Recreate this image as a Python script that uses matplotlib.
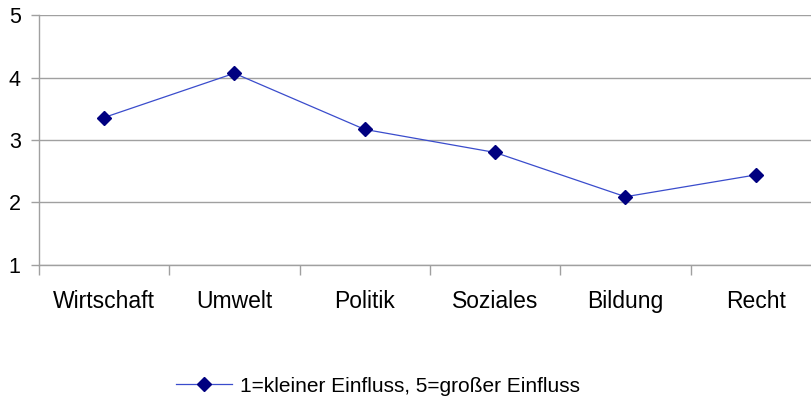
import matplotlib
matplotlib.use("Agg")
import matplotlib.pyplot as plt
from matplotlib.ticker import FixedLocator, NullFormatter

categories = ["Wirtschaft", "Umwelt", "Politik", "Soziales", "Bildung", "Recht"]
values = [3.36, 4.07, 3.17, 2.80, 2.09, 2.44]
series_label = "1=kleiner Einfluss, 5=großer Einfluss"
yticks = [1, 2, 3, 4, 5]

plt.rcParams['font.family'] = ['Liberation Sans', 'DejaVu Sans']

fig = plt.figure(figsize=(8.11, 4.05), dpi=100)
ax = fig.add_axes([38.8 / 811, 140.3 / 405, (821 - 38.8) / 811, (264.7 - 15.3) / 405])

x = list(range(len(categories)))
line, = ax.plot(x, values, color='#3a4ccc', linewidth=0.9, marker='D', markersize=7,
                markerfacecolor='#000080', markeredgecolor='#000080', label=series_label,
                clip_on=False, zorder=3)

ax.set_xlim(-0.5, len(categories) - 0.5)
ax.set_ylim(1, 5)
ax.set_yticks(yticks)
ax.set_yticklabels([str(v) for v in yticks], fontsize=15.5)
ax.yaxis.grid(True, color='#a0a0a0', linewidth=1)
ax.set_axisbelow(True)

ax.xaxis.set_major_locator(FixedLocator([i - 0.5 for i in range(len(categories) + 1)]))
ax.xaxis.set_major_formatter(NullFormatter())
ax.xaxis.set_minor_locator(FixedLocator(x))
ax.set_xticklabels(categories, minor=True, fontsize=16.5)
ax.tick_params(axis='x', which='major', length=7, color='#a0a0a0', width=1, direction='out')
ax.tick_params(axis='x', which='minor', length=0, pad=18)
ax.tick_params(axis='y', length=6, color='#a0a0a0', width=1, direction='out', pad=7)

for s in ['top', 'right']:
    ax.spines[s].set_visible(False)
for s in ['left', 'bottom']:
    ax.spines[s].set_color('#a0a0a0')
    ax.spines[s].set_linewidth(1)

fig.legend(handles=[line], loc='center', bbox_to_anchor=(378 / 811, 1 - 386 / 405),
           frameon=False, fontsize=15, handlelength=2.7, handletextpad=0.35)

fig.savefig("out.png", dpi=100)
